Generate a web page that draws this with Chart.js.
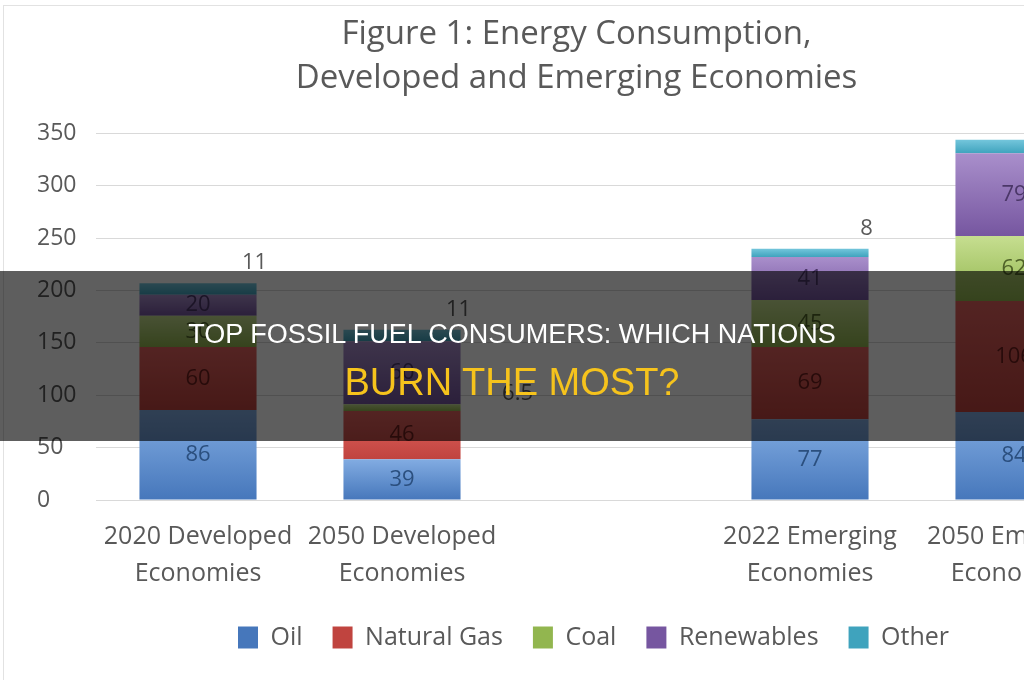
<!DOCTYPE html>
<html>
<head>
<meta charset="utf-8">
<script src="https://cdn.jsdelivr.net/npm/chart.js@4.4.0/dist/chart.umd.min.js"></script>
<style>
  html, body { margin: 0; padding: 0; background: #fff; overflow: hidden; width: 1024px; height: 680px; }
  #frame { position: absolute; left: 3px; top: 5px; width: 1140px; height: 675px; border-top: 1px solid #e2e2e2; border-left: 1px solid #e2e2e2; }
  #frame canvas { display: block; }
  #banner { position: absolute; left: 0; top: 271px; width: 1024px; height: 170px; background: rgba(0,0,0,0.63); font-family: "Liberation Sans", Arial, sans-serif; text-align: center; }
  #banner .l1 { position: absolute; left: 0; right: 0; top: 47px; color: #fff; font-size: 27px; line-height: 32px; }
  #banner .l2 { position: absolute; left: 0; right: 0; top: 89px; color: #f6c31c; font-size: 38px; line-height: 44px; }
</style>
</head>
<body>
<div id="frame"><canvas id="chart"></canvas></div>
<div id="banner">
  <div class="l1">TOP FOSSIL FUEL CONSUMERS: WHICH NATIONS</div>
  <div class="l2">BURN THE MOST?</div>
</div>
<script>
// categories (third slot is an empty gap in the original figure)
const categories = [
  ['2020 Developed', 'Economies'],
  ['2050 Developed', 'Economies'],
  '',
  ['2022 Emerging', 'Economies'],
  ['2050 Emerging', 'Economies']
];

// energy consumption by source
const oil        = [86, 39, null, 77, 84];
const naturalGas = [60, 46, null, 69, 106];
const coal       = [30, 6.5, null, 45, 62];
const renewables = [20, 60, null, 41, 79];
const other      = [11, 11, null, 8, 13];

const seriesNames = ['Oil', 'Natural Gas', 'Coal', 'Renewables', 'Other'];
const series = [oil, naturalGas, coal, renewables, other];

// colours: [legend, gradient top, gradient bottom, label]
const colours = [
  ['#4f81bd', '#82acE2', '#4677bb', '#2b4f7e'],
  ['#c0504d', '#e2625e', '#c0443f', '#6b1f1d'],
  ['#9bbb59', '#c6de90', '#92b64f', '#4f6228'],
  ['#8064a2', '#a98fcb', '#7656a0', '#4b3768'],
  ['#4bacc6', '#74c6dc', '#3fa3bd', '#595959']
];

// vertical gradient per segment, like the old excel bars
function segmentFill(i) {
  return (ctx) => {
    const chart = ctx.chart;
    if (ctx.type !== 'data' || !chart.chartArea) return colours[i][0];
    const j = ctx.dataIndex;
    let base = 0;
    for (let k = 0; k < i; k++) base += series[k][j] || 0;
    const top = base + (series[i][j] || 0);
    const y = chart.scales.y;
    const y0 = y.getPixelForValue(top), y1 = y.getPixelForValue(base);
    if (!isFinite(y0) || !isFinite(y1) || y0 === y1) return colours[i][0];
    const g = chart.ctx.createLinearGradient(0, y0, 0, y1);
    g.addColorStop(0, colours[i][1]);
    g.addColorStop(1, colours[i][2]);
    return g;
  };
}

// value labels inside segments, "Other" above the bar, tiny segments off to the side
const segLabels = {
  id: 'segLabels',
  afterLayout(chart) {
    // legend sits a bit right of centre in the original
    if (chart.legend) { chart.legend.left += 17; chart.legend.right += 17; }
  },
  afterDatasetsDraw(chart) {
    const c = chart.ctx;
    c.save();
    c.font = '22px "Open Sans"';
    c.textAlign = 'center';
    c.textBaseline = 'middle';
    chart.data.datasets.forEach((ds, i) => {
      const meta = chart.getDatasetMeta(i);
      meta.data.forEach((bar, j) => {
        const v = ds.data[j];
        if (v == null) return;
        const h = Math.abs(bar.base - bar.y);
        if (i === 4) {
          c.fillStyle = '#595959';
          c.fillText(v, bar.x + bar.width / 2 - 2, bar.y - 20);
        } else if (h < 16) {
          c.fillStyle = '#595959';
          c.fillText(v, bar.x + bar.width / 2 + 57, bar.y - 10);
        } else {
          c.fillStyle = colours[i][3];
          c.fillText(v, bar.x, (bar.y + bar.base) / 2);
        }
      });
    });
    c.restore();
  }
};

new Chart(document.getElementById('chart'), {
  type: 'bar',
  data: {
    labels: categories,
    datasets: series.map((d, i) => ({
      label: seriesNames[i],
      data: d,
      backgroundColor: segmentFill(i),
      borderWidth: 0,
      categoryPercentage: 1,
      barPercentage: 0.574
    }))
  },
  options: {
    responsive: true,
    maintainAspectRatio: false,
    animation: false,
    layout: { padding: { left: 33, right: 28, top: 0, bottom: 21 } },
    plugins: {
      title: {
        display: true,
        text: ['Figure 1: Energy Consumption,', 'Developed and Emerging Economies'],
        color: '#595959',
        font: { family: 'Open Sans', size: 33, weight: 'normal', lineHeight: 1.34 },
        padding: { top: 6, bottom: 33 }
      },
      legend: {
        position: 'bottom',
        labels: {
          color: '#595959',
          font: { family: 'Open Sans', size: 25 },
          boxWidth: 20,
          boxHeight: 22,
          padding: 30
        }
      },
      tooltip: { enabled: false }
    },
    scales: {
      x: {
        stacked: true,
        afterFit: (s) => { s.height -= 7; },
        grid: { display: false },
        border: { display: false },
        ticks: {
          color: '#595959',
          font: { family: 'Open Sans', size: 25, lineHeight: 1.48 },
          maxRotation: 0,
          autoSkip: false,
          padding: 10
        }
      },
      y: {
        stacked: true,
        min: 0,
        max: 350,
        afterFit: (s) => { s.width = 59; },
        grid: { color: '#d9d9d9', drawTicks: false },
        border: { display: false },
        ticks: {
          stepSize: 50,
          color: '#595959',
          crossAlign: 'far',
          padding: 0,
          font: { family: 'Open Sans', size: 23 }
        }
      }
    }
  },
  plugins: [segLabels]
});
</script>
</body>
</html>
